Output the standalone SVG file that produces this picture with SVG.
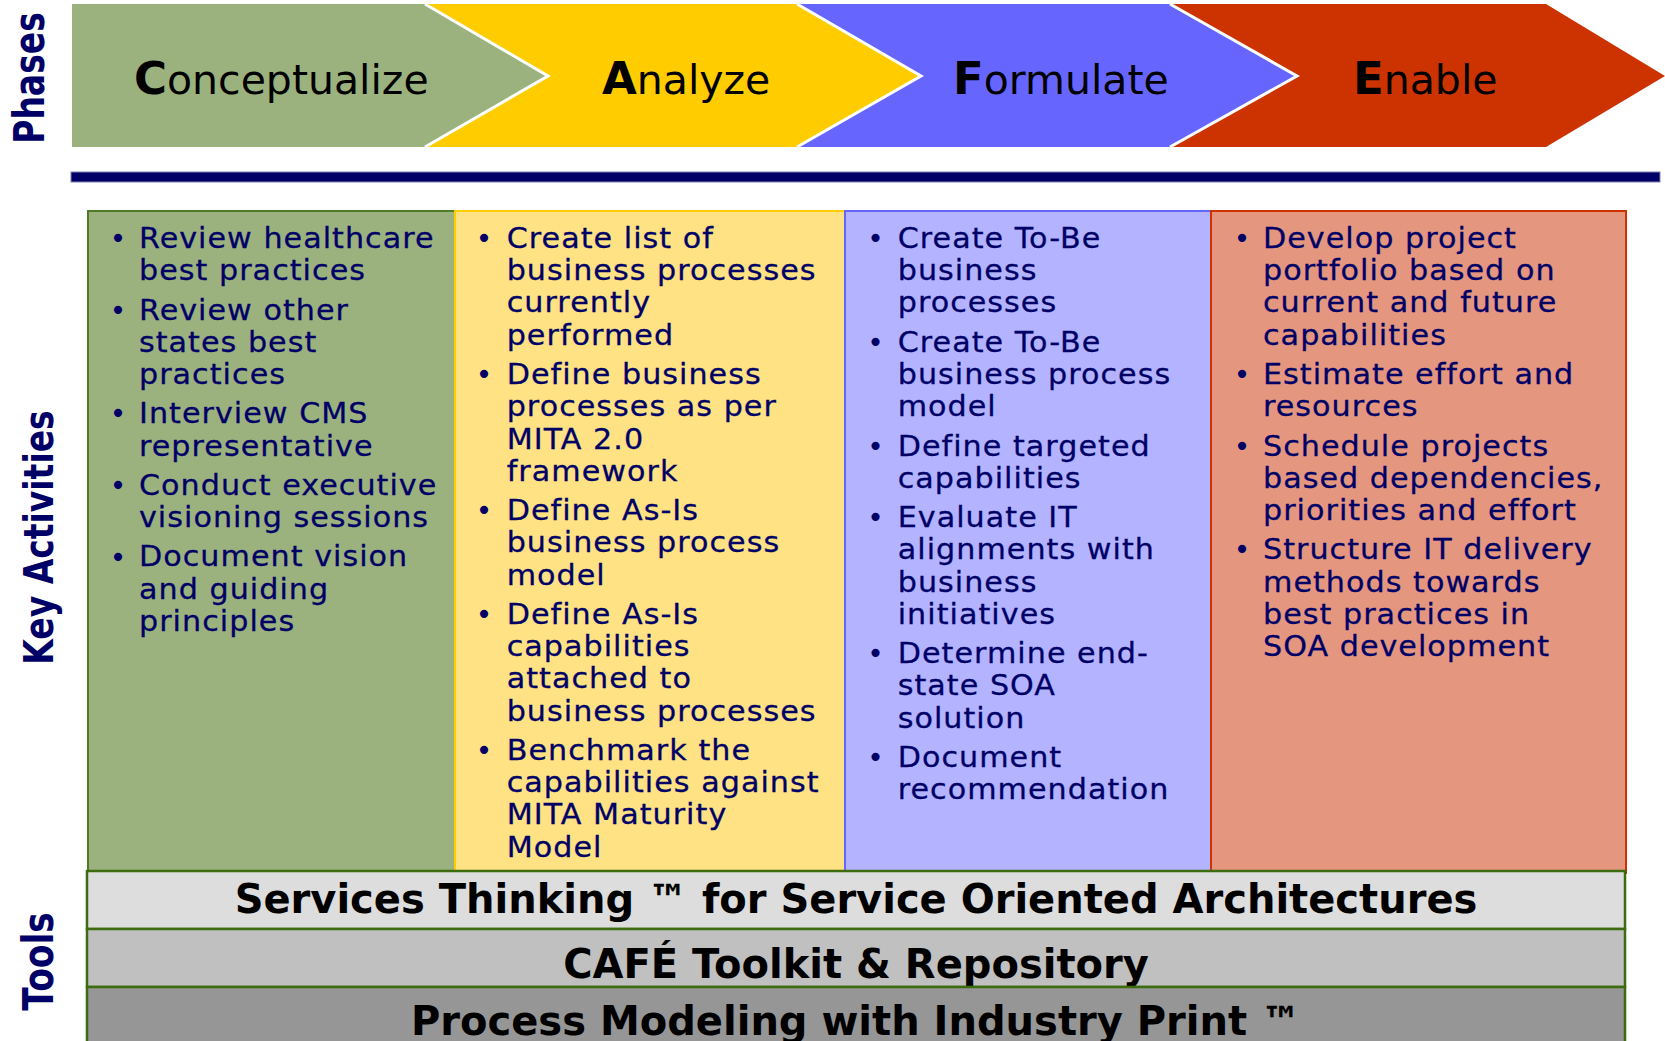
<svg xmlns="http://www.w3.org/2000/svg" width="1665" height="1041" viewBox="0 0 1665 1041">
<style>
.lbl{font-family:"DejaVu Sans",Verdana,sans-serif;font-weight:bold;font-size:33px;fill:#000066;text-anchor:middle}
.ph{font-family:"DejaVu Sans",Verdana,sans-serif;font-size:41px;fill:#000000}
.ph .cap{font-weight:bold;font-size:45px}
.bt{font-family:"DejaVu Sans",Verdana,sans-serif;font-size:29px;letter-spacing:1px;fill:#000066;stroke:#000066;stroke-width:0.3px}
.bu{font-family:"DejaVu Sans",Verdana,sans-serif;font-size:28px;fill:#000066;text-anchor:middle}
.tool{font-family:"DejaVu Sans",Verdana,sans-serif;font-weight:bold;font-size:40px;fill:#000000;text-anchor:middle}
.trow{stroke:#3D6B0F;stroke-width:2.5}
.div{fill:none;stroke:#FFFFFF;stroke-width:3}
</style>
<rect width="1665" height="1041" fill="#FFFFFF"/>

<g id="label-phases"><text class="lbl" transform="translate(44,78) rotate(-90) scale(1,1.3)" x="0" y="0">Phases</text></g>
<g id="label-key-activities"><text class="lbl" transform="translate(53,537.5) rotate(-90) scale(1,1.25)" x="0" y="0">Key Activities</text></g>
<g id="label-tools"><text class="lbl" style="font-size:34.4px" transform="translate(53,961.5) rotate(-90) scale(1,1.22)" x="0" y="0">Tools</text></g>

<g id="phase-enable">
<polygon points="1170,4 1546,4 1665,76 1546,147 1170,147 1297,76" fill="#CC3300"/>
<text class="ph" x="1353" y="94"><tspan class="cap">E</tspan>nable</text>
</g>
<g id="phase-formulate">
<polygon points="797,4 1170,4 1297,76 1170,147 797,147 921,76" fill="#6666FF"/>
<text class="ph" x="953" y="94"><tspan class="cap">F</tspan>ormulate</text>
</g>
<g id="phase-analyze">
<polygon points="425,4 797,4 921,76 797,147 425,147 548,76" fill="#FFCC00"/>
<text class="ph" x="602" y="94"><tspan class="cap">A</tspan>nalyze</text>
</g>
<g id="phase-conceptualize">
<polygon points="72,4 425,4 548,76 425,147 72,147" fill="#9BB27F"/>
<text class="ph" x="134" y="94"><tspan class="cap">C</tspan>onceptualize</text>
</g>
<g id="phase-dividers">
<polyline class="div" points="425,4 548,76 425,147"/>
<polyline class="div" points="797,4 921,76 797,147"/>
<polyline class="div" points="1170,4 1297,76 1170,147"/>
</g>

<g id="navy-bar"><rect x="71" y="172" width="1589" height="10" fill="#000066" stroke="#8080B0" stroke-width="1"/></g>

<g id="col-conceptualize">
<rect x="88" y="211" width="367" height="662" fill="#9BB27F" stroke="#4F7A28" stroke-width="2"/>
<text class="bu" x="118" y="248">•</text>
<text class="bu" x="118" y="319.6">•</text>
<text class="bu" x="118" y="423.4">•</text>
<text class="bu" x="118" y="494.9">•</text>
<text class="bu" x="118" y="566.5">•</text>
<g transform="matrix(1.04,0,0,1,-5.56,0)">
<text class="bt" x="139" y="248">Review healthcare</text>
<text class="bt" x="139" y="280.3">best practices</text>
<text class="bt" x="139" y="319.6">Review other</text>
<text class="bt" x="139" y="351.8">states best</text>
<text class="bt" x="139" y="384">practices</text>
<text class="bt" x="139" y="423.4">Interview CMS</text>
<text class="bt" x="139" y="455.6">representative</text>
<text class="bt" x="139" y="494.9">Conduct executive</text>
<text class="bt" x="139" y="527.2">visioning sessions</text>
<text class="bt" x="139" y="566.5">Document vision</text>
<text class="bt" x="139" y="598.7">and guiding</text>
<text class="bt" x="139" y="631">principles</text>
</g>
</g>

<g id="col-analyze">
<rect x="455" y="211" width="390" height="662" fill="#FEE283" stroke="#FFCC00" stroke-width="2"/>
<text class="bu" x="484" y="248">•</text>
<text class="bu" x="484" y="384">•</text>
<text class="bu" x="484" y="520.1">•</text>
<text class="bu" x="484" y="623.9">•</text>
<text class="bu" x="484" y="760">•</text>
<g transform="matrix(1.04,0,0,1,-20.27,0)">
<text class="bt" x="506.7" y="248">Create list of</text>
<text class="bt" x="506.7" y="280.3">business processes</text>
<text class="bt" x="506.7" y="312.5">currently</text>
<text class="bt" x="506.7" y="344.8">performed</text>
<text class="bt" x="506.7" y="384">Define business</text>
<text class="bt" x="506.7" y="416.3">processes as per</text>
<text class="bt" x="506.7" y="448.6">MITA 2.0</text>
<text class="bt" x="506.7" y="480.8">framework</text>
<text class="bt" x="506.7" y="520.1">Define As-Is</text>
<text class="bt" x="506.7" y="552.4">business process</text>
<text class="bt" x="506.7" y="584.6">model</text>
<text class="bt" x="506.7" y="623.9">Define As-Is</text>
<text class="bt" x="506.7" y="656.2">capabilities</text>
<text class="bt" x="506.7" y="688.4">attached to</text>
<text class="bt" x="506.7" y="720.7">business processes</text>
<text class="bt" x="506.7" y="760">Benchmark the</text>
<text class="bt" x="506.7" y="792.2">capabilities against</text>
<text class="bt" x="506.7" y="824.5">MITA Maturity</text>
<text class="bt" x="506.7" y="856.7">Model</text>
</g>
</g>

<g id="col-formulate">
<rect x="845" y="211" width="366" height="662" fill="#B3B3FF" stroke="#6666FF" stroke-width="2"/>
<text class="bu" x="875.5" y="248">•</text>
<text class="bu" x="875.5" y="351.8">•</text>
<text class="bu" x="875.5" y="455.6">•</text>
<text class="bu" x="875.5" y="527.2">•</text>
<text class="bu" x="875.5" y="663.2">•</text>
<text class="bu" x="875.5" y="767">•</text>
<g transform="matrix(1.04,0,0,1,-35.91,0)">
<text class="bt" x="897.7" y="248">Create To-Be</text>
<text class="bt" x="897.7" y="280.3">business</text>
<text class="bt" x="897.7" y="312.5">processes</text>
<text class="bt" x="897.7" y="351.8">Create To-Be</text>
<text class="bt" x="897.7" y="384">business process</text>
<text class="bt" x="897.7" y="416.3">model</text>
<text class="bt" x="897.7" y="455.6">Define targeted</text>
<text class="bt" x="897.7" y="487.9">capabilities</text>
<text class="bt" x="897.7" y="527.2">Evaluate IT</text>
<text class="bt" x="897.7" y="559.4">alignments with</text>
<text class="bt" x="897.7" y="591.7">business</text>
<text class="bt" x="897.7" y="623.9">initiatives</text>
<text class="bt" x="897.7" y="663.2">Determine end-</text>
<text class="bt" x="897.7" y="695.5">state SOA</text>
<text class="bt" x="897.7" y="727.7">solution</text>
<text class="bt" x="897.7" y="767">Document</text>
<text class="bt" x="897.7" y="799.3">recommendation</text>
</g>
</g>

<g id="col-enable">
<rect x="1211" y="211" width="415" height="662" fill="#E5967F" stroke="#CC3300" stroke-width="2"/>
<text class="bu" x="1242" y="248">•</text>
<text class="bu" x="1242" y="384">•</text>
<text class="bu" x="1242" y="455.6">•</text>
<text class="bu" x="1242" y="559.4">•</text>
<g transform="matrix(1.04,0,0,1,-50.52,0)">
<text class="bt" x="1263" y="248">Develop project</text>
<text class="bt" x="1263" y="280.3">portfolio based on</text>
<text class="bt" x="1263" y="312.5">current and future</text>
<text class="bt" x="1263" y="344.8">capabilities</text>
<text class="bt" x="1263" y="384">Estimate effort and</text>
<text class="bt" x="1263" y="416.3">resources</text>
<text class="bt" x="1263" y="455.6">Schedule projects</text>
<text class="bt" x="1263" y="487.9">based dependencies,</text>
<text class="bt" x="1263" y="520.1">priorities and effort</text>
<text class="bt" x="1263" y="559.4">Structure IT delivery</text>
<text class="bt" x="1263" y="591.7">methods towards</text>
<text class="bt" x="1263" y="623.9">best practices in</text>
<text class="bt" x="1263" y="656.2">SOA development</text>
</g>
</g>

<g id="tool-services-thinking">
<rect class="trow" x="87" y="871" width="1538" height="58" fill="#DDDDDD"/>
<text class="tool" x="856" y="913">Services Thinking ™ for Service Oriented Architectures</text>
</g>
<g id="tool-cafe">
<rect class="trow" x="87" y="929" width="1538" height="58" fill="#C0C0C0"/>
<text class="tool" x="856" y="978">CAFÉ Toolkit &amp; Repository</text>
</g>
<g id="tool-process-modeling">
<rect class="trow" x="87" y="987" width="1538" height="60" fill="#969696"/>
<text class="tool" x="856" y="1035">Process Modeling with Industry Print ™</text>
</g>

<g id="connectors"/>
</svg>
